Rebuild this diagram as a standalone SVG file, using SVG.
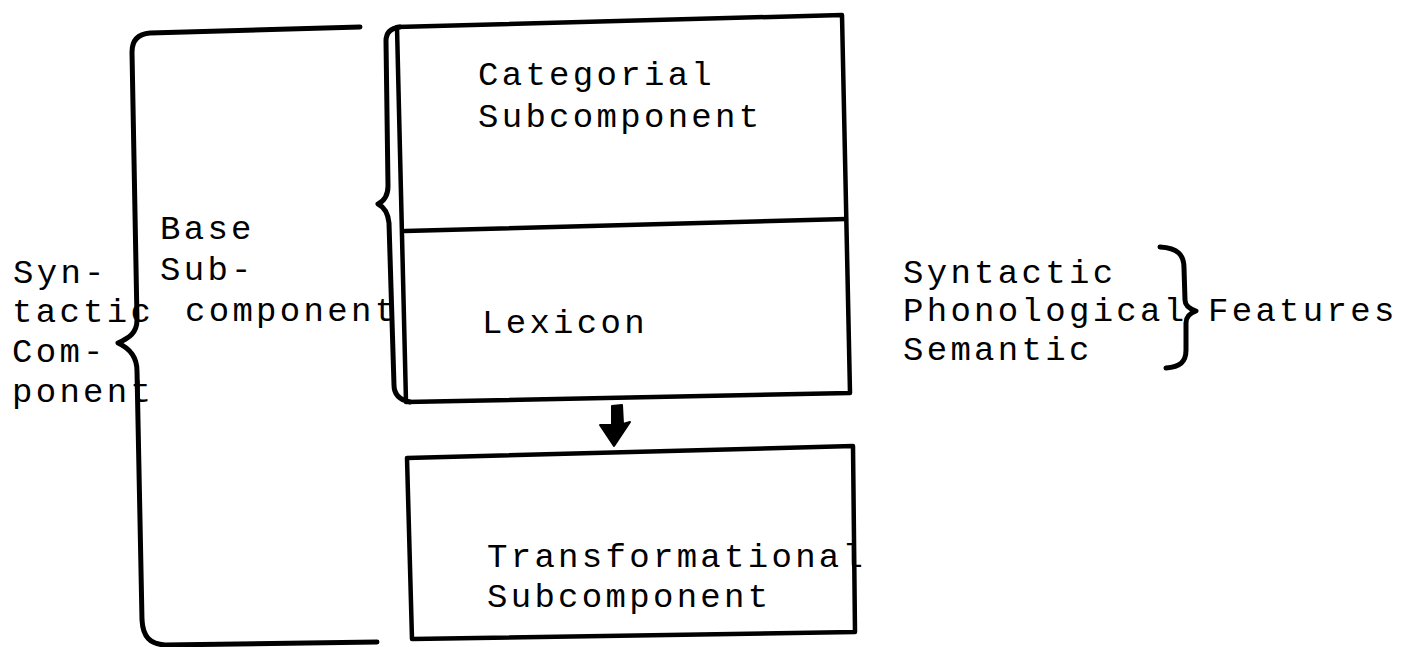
<svg xmlns="http://www.w3.org/2000/svg" width="1427" height="647" viewBox="0 0 1427 647">
  <style>
    .line { fill: none; stroke: #000; stroke-width: 4.5; stroke-linejoin: round; stroke-linecap: round; }
    .brace { fill: none; stroke: #000; stroke-width: 5; stroke-linejoin: round; stroke-linecap: round; }
    .tt { font-family: "Liberation Mono", "DejaVu Sans Mono", monospace; font-size: 34px; letter-spacing: 3.3px; fill: #000; }
  </style>
  <rect width="1427" height="647" fill="#fff"/>

  <!-- Brace enclosing the whole syntactic component -->
  <g id="syntactic-component">
    <path class="brace" d="M 360,27 L 150,33 C 138,34 132,40 132,52 L 137,320 C 137,333 129,338 118,343 C 129,348 137,356 137,371 L 142,620 C 143,637 150,644 165,645 L 377,642"/>
    <text class="tt"><tspan x="13" y="283">Syn-</tspan><tspan x="12" y="322">tactic</tspan><tspan x="12" y="362">Com-</tspan><tspan x="12" y="402">ponent</tspan></text>
  </g>

  <!-- Brace for the base subcomponent -->
  <g id="base-subcomponent">
    <path class="brace" d="M 400,27 C 391,28 386,32 386,41 L 388,186 C 388,196 384,201 378,204 C 384,207 388,213 389,223 L 394,385 C 394,395 400,400 410,402"/>
    <text class="tt"><tspan x="160" y="239">Base</tspan><tspan x="160" y="280">Sub-</tspan><tspan x="185" y="321">component</tspan></text>
  </g>

  <!-- Upper box: categorial subcomponent over lexicon -->
  <g id="base-box">
    <path class="line" d="M 397,27 L 842,15 L 850,393 L 406,402 Z"/>
    <path class="line" d="M 405,231 L 846,219"/>
  </g>
  <g id="categorial">
    <text class="tt"><tspan x="478" y="85">Categorial</tspan><tspan x="478" y="127">Subcomponent</tspan></text>
  </g>
  <g id="lexicon">
    <text class="tt" x="482" y="333">Lexicon</text>
  </g>

  <!-- Lower box -->
  <g id="transformational">
    <path class="line" d="M 407,458 L 853,446 L 855,632 L 412,639 Z"/>
    <text class="tt"><tspan x="487" y="567">Transformational</tspan><tspan x="487" y="607">Subcomponent</tspan></text>
  </g>

  <!-- Feature list with its brace -->
  <g id="features">
    <text class="tt"><tspan x="903" y="283">Syntactic</tspan><tspan x="903" y="321">Phonological</tspan><tspan x="903" y="360">Semantic</tspan></text>
    <path class="brace" d="M 1160,247 C 1178,248 1184,255 1184,268 L 1185,300 C 1185,306 1190,309 1196,311 C 1190,313 1186,317 1186,323 L 1186,350 C 1186,362 1180,367 1166,368"/>
    <text class="tt" x="1208" y="321">Features</text>
  </g>

  <!-- Connectors -->
  <g id="connectors">
    <path d="M 612,406 L 622,405 L 623,424 L 630,422 L 614,446 L 600,425 L 612,425 Z" fill="#000" stroke="#000" stroke-width="2" stroke-linejoin="round"/>
  </g>
</svg>
